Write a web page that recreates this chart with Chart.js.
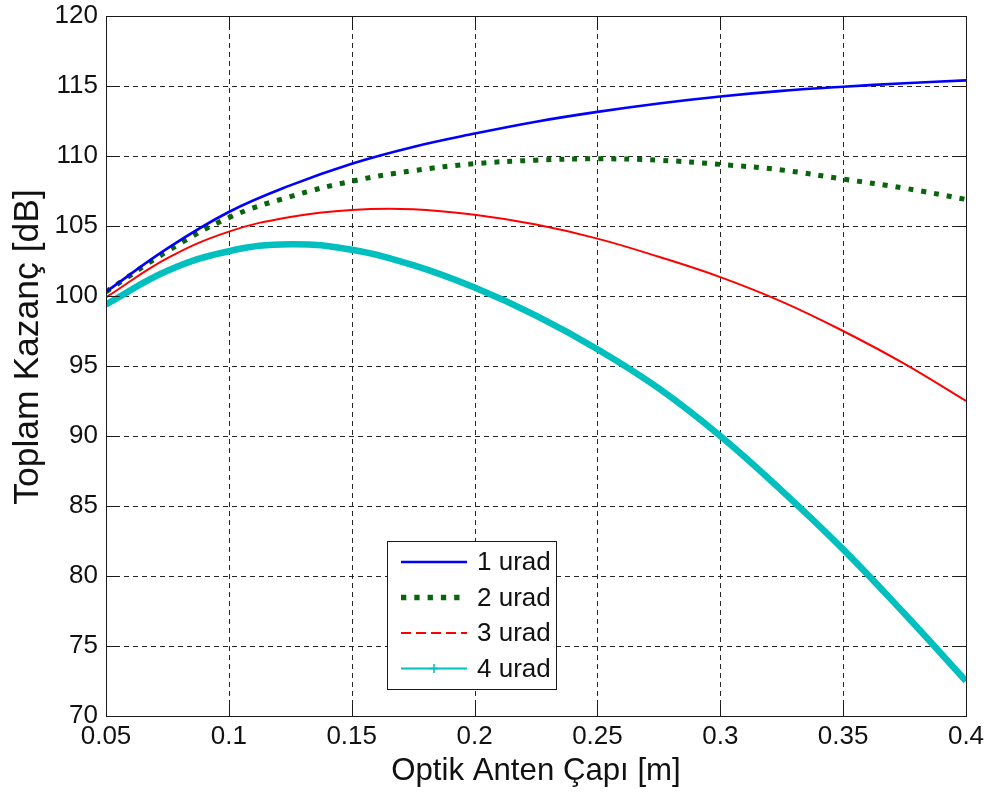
<!DOCTYPE html>
<html>
<head>
<meta charset="utf-8">
<script src="https://cdn.jsdelivr.net/npm/chart.js@4/dist/chart.umd.min.js"></script>
<style>
  html, body { margin: 0; padding: 0; background: #ffffff; }
  canvas { display: block; }
</style>
</head>
<body>
<canvas id="chart" width="987" height="794"></canvas>
<script>
// Optical antenna diameter [m]
const diameters = [0.05, 0.075, 0.1, 0.125, 0.15, 0.175, 0.2, 0.225, 0.25, 0.275, 0.3, 0.325, 0.35, 0.375, 0.4];

// Total gain [dB] for each pointing error
const gain1urad = [100.3, 103.4, 106.0, 107.9, 109.45, 110.65, 111.6, 112.45, 113.15, 113.75, 114.25, 114.65, 114.95, 115.2, 115.4];
const gain2urad = [100.3, 103.2, 105.6, 107.1, 108.2, 108.95, 109.45, 109.7, 109.8, 109.7, 109.4, 109.0, 108.35, 107.7, 106.9];
const gain3urad = [99.9, 102.7, 104.6, 105.65, 106.15, 106.2, 105.8, 105.1, 104.1, 102.8, 101.35, 99.6, 97.5, 95.15, 92.5];
const gain4urad = [99.4, 101.8, 103.2, 103.7, 103.3, 102.2, 100.6, 98.6, 96.2, 93.4, 90.0, 86.1, 81.9, 77.3, 72.5];

const seriesLabels = ['1 urad', '2 urad', '3 urad', '4 urad'];

const xTickValues = [0.05, 0.1, 0.15, 0.2, 0.25, 0.3, 0.35, 0.4];
const xTickLabels = ['0.05', '0.1', '0.15', '0.2', '0.25', '0.3', '0.35', '0.4'];
const yTickValues = [70, 75, 80, 85, 90, 95, 100, 105, 110, 115, 120];
const yTickLabels = ['70', '75', '80', '85', '90', '95', '100', '105', '110', '115', '120'];

const xTitle = 'Optik Anten Çapı [m]';
const yTitle = 'Toplam Kazanç [dB]';

const FONT = "'Liberation Sans', Arial, Helvetica, sans-serif";

const toPoints = (ys) => diameters.map((x, i) => ({ x: x, y: ys[i] }));

const styles = [
  { color: '#0000ff', width: 2.6, dash: [], legendDash: [], legendWidth: 2.6 },
  { color: '#08650c', width: 5, dash: [5, 8], legendDash: [5.3, 8], legendWidth: 5.3 },
  { color: '#ff0000', width: 2, dash: [], legendDash: [10, 5], legendWidth: 2 },
  { color: '#00bfbf', width: 6.5, dash: [], legendDash: [], legendWidth: 2, plus: true }
];

const seriesValues = [gain1urad, gain2urad, gain3urad, gain4urad];

// Axes box, dashed grid and inward tick marks
const framePlugin = {
  id: 'frame',
  beforeDatasetsDraw(chart) {
    const { ctx, chartArea: a, scales: { x, y } } = chart;
    ctx.save();
    ctx.strokeStyle = '#262626';
    ctx.lineWidth = 1;
    ctx.setLineDash([5, 4]);
    xTickValues.forEach(v => {
      const px = Math.round(x.getPixelForValue(v)) + 0.5;
      if (px <= a.left + 1 || px >= a.right - 1) return;
      ctx.beginPath(); ctx.moveTo(px, a.top); ctx.lineTo(px, a.bottom); ctx.stroke();
    });
    yTickValues.forEach(v => {
      const py = Math.round(y.getPixelForValue(v)) + 0.5;
      if (py <= a.top + 1 || py >= a.bottom - 1) return;
      ctx.beginPath(); ctx.moveTo(a.left, py); ctx.lineTo(a.right, py); ctx.stroke();
    });
    ctx.restore();
  },
  afterDatasetsDraw(chart) {
    const { ctx, chartArea: a, scales: { x, y } } = chart;
    const L = Math.round(a.left) + 0.5, R = Math.round(a.right) + 0.5;
    const T = Math.round(a.top) + 0.5, B = Math.round(a.bottom) + 0.5;
    const tl = 13;
    ctx.save();
    ctx.strokeStyle = '#1a1a1a';
    ctx.lineWidth = 1;
    ctx.setLineDash([]);
    ctx.strokeRect(L, T, R - L, B - T);
    ctx.beginPath();
    xTickValues.forEach(v => {
      const px = Math.round(x.getPixelForValue(v)) + 0.5;
      ctx.moveTo(px, B); ctx.lineTo(px, B - tl);
      ctx.moveTo(px, T); ctx.lineTo(px, T + tl);
    });
    yTickValues.forEach(v => {
      const py = Math.round(y.getPixelForValue(v)) + 0.5;
      ctx.moveTo(L, py); ctx.lineTo(L + tl, py);
      ctx.moveTo(R, py); ctx.lineTo(R - tl, py);
    });
    ctx.stroke();
    ctx.restore();
  }
};

// Vertical y-axis title
const yTitlePlugin = {
  id: 'yTitle',
  afterDraw(chart) {
    const { ctx } = chart;
    ctx.save();
    ctx.translate(28, 347);
    ctx.rotate(-Math.PI / 2);
    ctx.fillStyle = '#111111';
    ctx.font = '35.5px ' + FONT;
    ctx.textAlign = 'center';
    ctx.textBaseline = 'middle';
    ctx.fillText(yTitle, 0, 0);
    ctx.restore();
  }
};

// Boxed legend with line samples inside the plot
const legendBoxPlugin = {
  id: 'legendBox',
  afterDraw(chart) {
    const { ctx } = chart;
    const box = { left: 387.5, top: 541.5, right: 556.5, bottom: 689.5 };
    const rows = [562, 597.5, 633, 668.5];
    const lineX0 = 401, lineX1 = 467, textX = 477;
    ctx.save();
    ctx.fillStyle = '#ffffff';
    ctx.fillRect(box.left, box.top, box.right - box.left, box.bottom - box.top);
    ctx.strokeStyle = '#1a1a1a';
    ctx.lineWidth = 1;
    ctx.strokeRect(box.left, box.top, box.right - box.left, box.bottom - box.top);
    chart.data.datasets.forEach((ds, i) => {
      const st = styles[i];
      const yy = rows[i];
      ctx.strokeStyle = st.color;
      ctx.lineWidth = st.legendWidth;
      ctx.lineCap = 'butt';
      ctx.setLineDash(st.legendDash);
      ctx.beginPath(); ctx.moveTo(lineX0, yy); ctx.lineTo(lineX1, yy); ctx.stroke();
      ctx.setLineDash([]);
      if (st.plus) {
        const cx = (lineX0 + lineX1) / 2;
        ctx.lineWidth = 1.5;
        ctx.beginPath();
        ctx.moveTo(cx, yy - 4.5); ctx.lineTo(cx, yy + 4.5);
        ctx.moveTo(cx - 4.5, yy); ctx.lineTo(cx + 4.5, yy);
        ctx.stroke();
      }
      ctx.fillStyle = '#111111';
      ctx.font = '26px ' + FONT;
      ctx.textAlign = 'left';
      ctx.textBaseline = 'middle';
      ctx.fillText(ds.label, textX, yy + 1);
    });
    ctx.restore();
  }
};

new Chart(document.getElementById('chart'), {
  type: 'line',
  data: {
    datasets: seriesValues.map((vals, i) => ({
      label: seriesLabels[i],
      data: toPoints(vals),
      borderColor: styles[i].color,
      backgroundColor: styles[i].color,
      borderWidth: styles[i].width,
      borderDash: styles[i].dash,
      borderCapStyle: 'butt',
      borderJoinStyle: 'round',
      pointRadius: 0,
      pointHoverRadius: 0,
      fill: false,
      tension: 0.4
    }))
  },
  options: {
    responsive: false,
    animation: false,
    devicePixelRatio: 1,
    layout: { padding: { left: 0, top: 16, right: 21, bottom: 0 } },
    plugins: {
      legend: { display: false },
      tooltip: { enabled: false }
    },
    scales: {
      x: {
        type: 'linear',
        min: 0.05,
        max: 0.4,
        afterBuildTicks: (s) => { s.ticks = xTickValues.map(v => ({ value: v })); },
        afterFit: (s) => { s.height = 78; s.paddingLeft = 0; s.paddingRight = 0; },
        grid: { display: false, drawTicks: false },
        border: { display: false },
        ticks: {
          autoSkip: false,
          maxRotation: 0,
          padding: 5,
          color: '#111111',
          font: { family: FONT, size: 26 },
          callback: (v, i) => xTickLabels[i]
        },
        title: {
          display: true,
          text: xTitle,
          color: '#111111',
          font: { family: FONT, size: 31.2 },
          padding: { top: 0, bottom: 4 }
        }
      },
      y: {
        type: 'linear',
        min: 70,
        max: 120,
        afterBuildTicks: (s) => { s.ticks = yTickValues.map(v => ({ value: v })); },
        afterFit: (s) => { s.width = 106; s.paddingTop = 0; s.paddingBottom = 0; },
        grid: { display: false, drawTicks: false },
        border: { display: false },
        ticks: {
          autoSkip: false,
          padding: 8,
          color: '#111111',
          font: { family: FONT, size: 26 },
          callback: (v, i) => yTickLabels[i]
        },
        title: { display: false }
      }
    }
  },
  plugins: [framePlugin, yTitlePlugin, legendBoxPlugin]
});
</script>
</body>
</html>
